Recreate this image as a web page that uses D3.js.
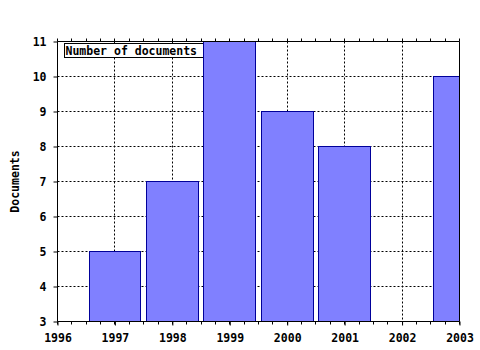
<!DOCTYPE html>
<html>
<head>
<meta charset="utf-8">
<script src="https://cdn.jsdelivr.net/npm/d3@7"></script>
<style>
body { margin: 0; background: #fff; }
text { font-family: "DejaVu Sans Mono", monospace; font-weight: bold; font-size: 11.5px; fill: #000; }
</style>
</head>
<body>
<script>
var years = [1997, 1998, 1999, 2000, 2001, 2003];
var docs = [5, 7, 11, 9, 8, 10];
var xTicks = [1996, 1997, 1998, 1999, 2000, 2001, 2002, 2003];
var yTicks = [3, 4, 5, 6, 7, 8, 9, 10, 11];

var margin = {top: 41, right: 21, bottom: 29, left: 57},
    width = 480 - margin.left - margin.right,
    height = 350 - margin.top - margin.bottom;

var svg = d3.select("body")
    .append("svg")
    .attr("width", 480)
    .attr("height", 350)
    .append("g")
    .attr("transform", "translate(" + (margin.left + 0.5) + "," + (margin.top + 0.5) + ")");

var x = d3.scaleLinear().domain([1996, 2003]).range([0, width]);
var y = d3.scaleLinear().domain([3, 11]).range([height, 0]);

svg.append("clipPath").attr("id", "clip")
    .append("rect").attr("x", 0).attr("y", 0).attr("width", width).attr("height", height);

// dotted grid
svg.append("g")
    .selectAll("line.vg")
    .data(xTicks.slice(1, -1))
    .enter().append("line")
    .attr("x1", function(d) { return Math.round(x(d)); })
    .attr("x2", function(d) { return Math.round(x(d)); })
    .attr("y1", 0).attr("y2", height)
    .attr("stroke", "#000").attr("stroke-dasharray", "2,2");

svg.append("g")
    .selectAll("line.hg")
    .data(yTicks.slice(1, -1))
    .enter().append("line")
    .attr("y1", function(d) { return Math.round(y(d)); })
    .attr("y2", function(d) { return Math.round(y(d)); })
    .attr("x1", 0).attr("x2", width)
    .attr("stroke", "#000").attr("stroke-dasharray", "2,2");

// title box
svg.append("rect")
    .attr("x", 7).attr("y", 2).attr("width", 139).attr("height", 14)
    .attr("fill", "#fff").attr("stroke", "#000");
svg.append("text")
    .attr("x", 8).attr("y", 13)
    .text("Number of documents");

// bars
svg.append("g")
    .attr("clip-path", "url(#clip)")
    .selectAll("rect")
    .data(years)
    .enter().append("rect")
    .attr("x", function(d) { return Math.round(x(d - 0.45)); })
    .attr("width", function(d) { return Math.round(x(d + 0.45)) - Math.round(x(d - 0.45)); })
    .attr("y", function(d, i) { return Math.round(y(docs[i])); })
    .attr("height", function(d, i) { return height - Math.round(y(docs[i])); })
    .attr("fill", "#8080ff")
    .attr("stroke", "#000099");

// axes
var xAxis = d3.axisBottom(x).tickValues(xTicks).tickFormat(d3.format("d")).tickSize(4).tickPadding(8);
svg.append("g")
    .attr("transform", "translate(0," + height + ")")
    .call(xAxis)
    .call(function(g) { g.select(".domain").remove(); g.selectAll("text").style("font-family", null).style("font-size", null); });

var minor = d3.range(1996, 2003.01, 0.25);
svg.append("g").selectAll("line")
    .data(minor).enter().append("line")
    .attr("x1", function(d) { return Math.round(x(d)); })
    .attr("x2", function(d) { return Math.round(x(d)); })
    .attr("y1", height).attr("y2", height + 3)
    .attr("stroke", "#000");
svg.append("g").selectAll("line")
    .data(minor).enter().append("line")
    .attr("x1", function(d) { return Math.round(x(d)); })
    .attr("x2", function(d) { return Math.round(x(d)); })
    .attr("y1", 0).attr("y2", -3)
    .attr("stroke", "#000");

var yAxis = d3.axisLeft(y).tickValues(yTicks).tickSize(4).tickPadding(7);
svg.append("g")
    .call(yAxis)
    .call(function(g) { g.select(".domain").remove(); g.selectAll("text").style("font-family", null).style("font-size", null); });

// frame
svg.append("line").attr("x1", 0).attr("x2", 0).attr("y1", 0).attr("y2", height).attr("stroke", "#000");
svg.append("line").attr("x1", 0).attr("x2", width).attr("y1", height).attr("y2", height).attr("stroke", "#000");
svg.append("line").attr("x1", 0).attr("x2", width).attr("y1", 0).attr("y2", 0).attr("stroke", "#000");
svg.append("line").attr("x1", width).attr("x2", width).attr("y1", 0).attr("y2", height).attr("stroke", "#000");

svg.append("text")
    .attr("transform", "translate(" + (-39) + "," + (height / 2) + ")rotate(-90)")
    .attr("text-anchor", "middle")
    .text("Documents");
</script>
</body>
</html>
